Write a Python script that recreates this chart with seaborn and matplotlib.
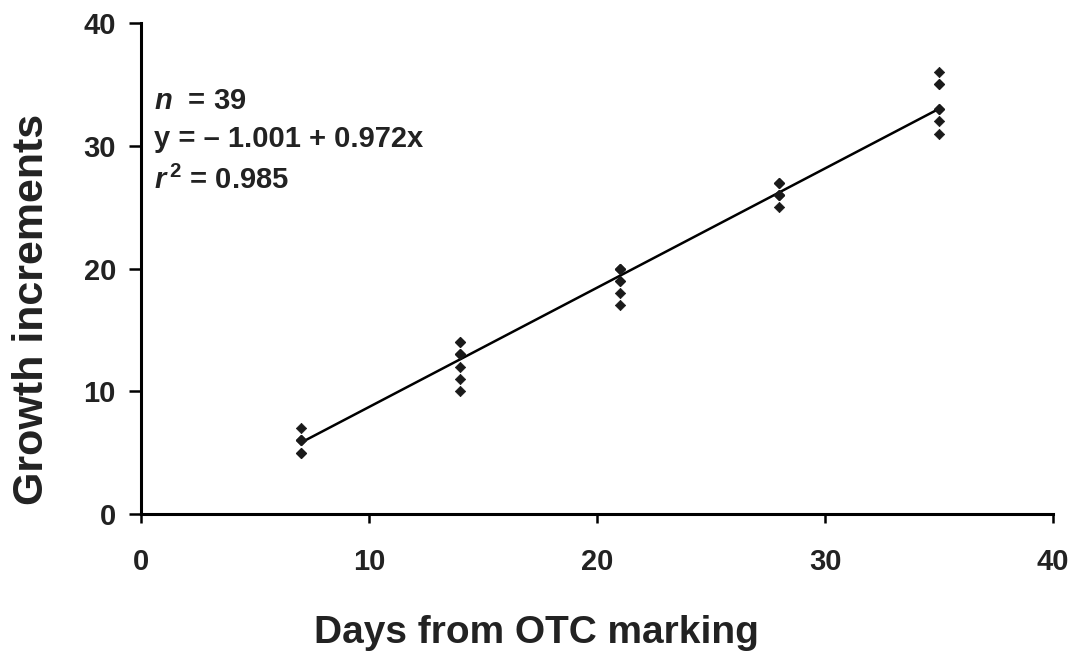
import numpy as np
import pandas as pd
import matplotlib
matplotlib.use("Agg")
import matplotlib.pyplot as plt
import seaborn as sns

# Days after OTC marking and counted growth increments (n = 39)
days = [7] * 7 + [14] * 8 + [21] * 8 + [28] * 8 + [35] * 8
increments = [5, 5, 6, 6, 6, 6, 7,
              10, 11, 12, 13, 13, 13, 14, 14,
              17, 18, 19, 19, 20, 20, 20, 20,
              25, 26, 26, 26, 26, 27, 27, 27,
              31, 32, 33, 33, 33, 35, 35, 36]

# Reported regression
intercept = -1.001
slope = 0.972
r_squared = 0.985
n_obs = 39

x_ticks = [0, 10, 20, 30, 40]
y_ticks = [0, 10, 20, 30, 40]

sns.set_style("white")
plt.rcParams["font.family"] = ["Liberation Sans", "DejaVu Sans"]
plt.rcParams["font.weight"] = "bold"
plt.rcParams["mathtext.fontset"] = "custom"
plt.rcParams["mathtext.it"] = "Liberation Sans:italic:bold"
plt.rcParams["mathtext.bf"] = "Liberation Sans:bold"
plt.rcParams["mathtext.rm"] = "Liberation Sans:bold"

df = pd.DataFrame({"days": days, "inc": increments})
fit_x = np.array([min(days), max(days)], dtype=float)
fit = pd.DataFrame({"days": fit_x, "inc": intercept + slope * fit_x})

fig = plt.figure(figsize=(10.73, 6.60), dpi=100)
ax = fig.add_axes([0.1314, 0.2212, 0.85, 0.7438])

sns.lineplot(data=fit, x="days", y="inc", color="black", linewidth=1.8, ax=ax)
sns.scatterplot(data=df, x="days", y="inc", marker="D", s=28, color="#1a1a1a",
                edgecolor="#1a1a1a", linewidth=0.5, ax=ax, zorder=3)

ax.set_xlim(0, 40)
ax.set_ylim(0, 40)
ax.set_xticks(x_ticks)
ax.set_yticks(y_ticks)
ax.tick_params(axis="x", which="major", bottom=True, direction="out", length=6.5,
               width=1.8, color="black", labelsize=21, pad=18)
ax.tick_params(axis="y", which="major", left=True, direction="out", length=9,
               width=1.8, color="black", labelsize=21, pad=9)
for lab in ax.get_xticklabels() + ax.get_yticklabels():
    lab.set_fontweight("bold")
    lab.set_color("#222222")

for side in ("top", "right"):
    ax.spines[side].set_visible(False)
for side in ("left", "bottom"):
    ax.spines[side].set_color("black")
    ax.spines[side].set_linewidth(2.2)

ax.set_xlabel("Days from OTC marking", fontsize=28, fontweight="bold",
              color="#222222")
ax.set_ylabel("Growth increments", fontsize=31, fontweight="bold",
              color="#222222")
ax.xaxis.set_label_coords(0.434, -0.206)
ax.yaxis.set_label_coords(-0.0976, 0.4175)

txt = dict(fontsize=21, fontweight="bold", color="#222222", va="baseline", ha="left")
ax.text(0.55, 33.0, r"$\mathit{n}$  = %d" % n_obs, **txt)
ax.text(0.55, 29.9, "y = \u2013 %.3f + %.3fx" % (abs(intercept), slope), **txt)
ax.text(0.55, 26.5, r"$\mathit{r}^{\,\mathrm{2}}$ = %.3f" % r_squared, **txt)

fig.savefig("out.png", dpi=100, facecolor="white")
